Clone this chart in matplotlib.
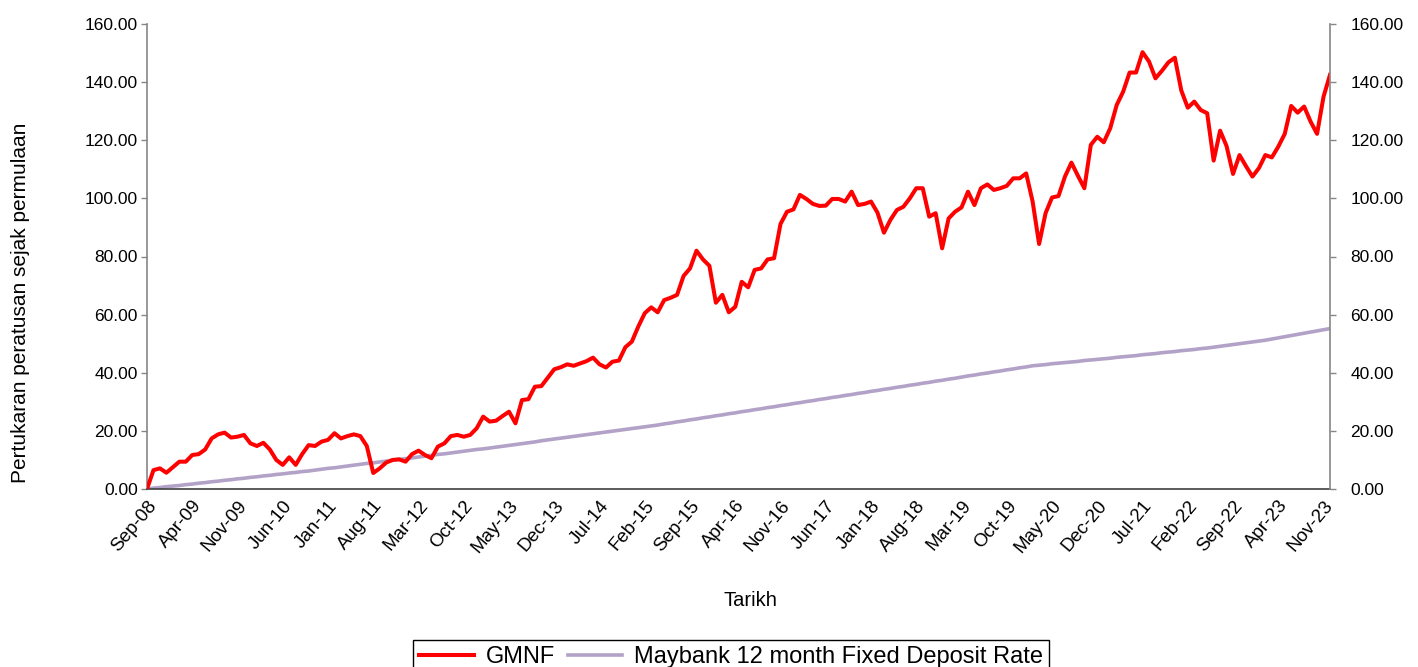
import matplotlib
matplotlib.use('Agg')
import matplotlib.pyplot as plt
import numpy as np
import pandas as pd

plt.rcParams['font.family'] = ['Liberation Sans', 'DejaVu Sans']

# monthly points, Sep-08 .. Dec-23
months = pd.date_range('2008-09-01', periods=184, freq='MS')
month_labels = [d.strftime('%b-%y') for d in months]

gmnf = [
    0.0, 6.5, 7.1, 5.6, 7.5, 9.4, 9.4, 11.7, 12.0, 13.6,
    17.4, 18.8, 19.4, 17.7, 18.0, 18.6, 15.7, 14.8, 15.9, 13.6,
    10.0, 8.3, 10.9, 8.3, 12.0, 15.1, 14.8, 16.3, 16.9, 19.2,
    17.4, 18.2, 18.8, 18.2, 14.8, 5.5, 7.1, 9.1, 10.0, 10.2,
    9.4, 12.0, 13.2, 11.7, 10.6, 14.6, 15.7, 18.2, 18.6, 18.0,
    18.6, 20.9, 24.9, 23.2, 23.5, 25.1, 26.6, 22.6, 30.6, 30.9,
    35.2, 35.4, 38.3, 41.2, 41.9, 42.9, 42.4, 43.2, 44.0, 45.2,
    42.9, 41.8, 43.8, 44.2, 48.8, 50.7, 55.9, 60.5, 62.5, 60.8,
    65.0, 65.8, 66.8, 73.3, 75.9, 82.0, 79.0, 76.8, 64.1, 66.8,
    60.8, 62.7, 71.3, 69.4, 75.4, 75.9, 79.0, 79.4, 91.2, 95.4,
    96.2, 101.2, 99.8, 98.1, 97.4, 97.5, 99.8, 99.8, 98.9, 102.3,
    97.7, 98.1, 98.9, 95.1, 88.2, 92.6, 96.0, 97.1, 100.0, 103.5,
    103.5, 93.7, 94.9, 82.8, 93.1, 95.4, 96.9, 102.3, 97.7, 103.5,
    104.8, 102.9, 103.5, 104.3, 106.9, 106.9, 108.6, 98.9, 84.3, 94.9,
    100.3, 100.8, 107.5, 112.3, 107.8, 103.5, 118.4, 121.2, 119.3, 124.1,
    132.1, 136.7, 143.3, 143.3, 150.3, 147.1, 141.3, 143.9, 146.8, 148.4,
    137.1, 131.2, 133.3, 130.4, 129.3, 113.0, 123.3, 118.0, 108.4, 114.9,
    111.1, 107.5, 110.4, 114.9, 114.1, 117.8, 122.2, 131.8, 129.5, 131.6,
    126.4, 122.2, 135.0, 142.5,
]

fd_rate = [
    0.0, 0.3, 0.5, 0.8, 1.0, 1.2, 1.5, 1.7, 2.0, 2.2,
    2.5, 2.7, 3.0, 3.2, 3.5, 3.7, 4.0, 4.2, 4.5, 4.7,
    5.0, 5.2, 5.5, 5.7, 6.0, 6.2, 6.5, 6.8, 7.1, 7.3,
    7.6, 7.9, 8.2, 8.5, 8.8, 9.0, 9.3, 9.6, 9.9, 10.2,
    10.4, 10.7, 11.0, 11.3, 11.6, 11.9, 12.1, 12.4, 12.7, 13.0,
    13.3, 13.6, 13.8, 14.1, 14.4, 14.7, 15.0, 15.3, 15.6, 15.9,
    16.2, 16.6, 16.9, 17.2, 17.5, 17.8, 18.1, 18.4, 18.7, 19.0,
    19.3, 19.6, 19.9, 20.2, 20.5, 20.8, 21.1, 21.4, 21.7, 22.0,
    22.4, 22.7, 23.1, 23.4, 23.8, 24.1, 24.5, 24.8, 25.2, 25.5,
    25.9, 26.2, 26.6, 26.9, 27.3, 27.6, 28.0, 28.3, 28.7, 29.0,
    29.4, 29.7, 30.1, 30.4, 30.8, 31.1, 31.5, 31.8, 32.2, 32.5,
    32.9, 33.2, 33.6, 33.9, 34.3, 34.6, 35.0, 35.3, 35.7, 36.0,
    36.4, 36.7, 37.1, 37.4, 37.8, 38.1, 38.5, 38.9, 39.2, 39.6,
    39.9, 40.3, 40.6, 41.0, 41.3, 41.7, 42.0, 42.4, 42.6, 42.8,
    43.1, 43.3, 43.5, 43.7, 43.9, 44.2, 44.4, 44.6, 44.8, 45.0,
    45.3, 45.5, 45.7, 45.9, 46.2, 46.4, 46.6, 46.9, 47.1, 47.3,
    47.6, 47.8, 48.0, 48.3, 48.5, 48.8, 49.1, 49.4, 49.7, 50.0,
    50.3, 50.6, 50.9, 51.2, 51.6, 52.0, 52.4, 52.8, 53.2, 53.6,
    54.0, 54.4, 54.8, 55.2,
]

y_ticks = [0, 20, 40, 60, 80, 100, 120, 140, 160]

x = np.arange(len(months))

fig = plt.figure(figsize=(14.18, 6.67), dpi=100)
ax = fig.add_axes([147/1418, 1-489/667, (1330-147)/1418, (489-24)/667])

ax.plot(x, fd_rate, color='#B3A2C7', lw=2.6, label='Maybank 12 month Fixed Deposit Rate', zorder=2)
ax.plot(x, gmnf, color='#FF0000', lw=2.9, label='GMNF', zorder=3)

ax.set_xlim(0, len(months) - 1)
ax.set_ylim(0, 160)
ax.set_yticks(y_ticks)
ax.set_yticklabels(['%.2f' % v for v in y_ticks], fontsize=12.5)
ax.set_xticks(x[::7])
ax.set_xticklabels(month_labels[::7], rotation=50, ha='right', va='top',
                   rotation_mode='anchor', fontsize=13.5)
ax.tick_params(axis='x', length=0, pad=6)
ax.tick_params(axis='y', direction='out', length=4.5, width=1, color='#868686', pad=2)

for s in ['top', 'right']:
    ax.spines[s].set_visible(False)
ax.spines['left'].set_color('#868686')
ax.spines['bottom'].set_color('#404040')
ax.spines['left'].set_linewidth(1.2)
ax.spines['bottom'].set_linewidth(1.2)

ax2 = ax.twinx()
ax2.set_ylim(0, 160)
ax2.set_yticks(y_ticks)
ax2.set_yticklabels(['%.2f' % v for v in y_ticks], fontsize=12.5)
ax2.tick_params(axis='y', direction='out', length=4.5, width=1, color='#868686', pad=10)
for s in ['top', 'left', 'bottom']:
    ax2.spines[s].set_visible(False)
ax2.spines['right'].set_color('#868686')
ax2.spines['right'].set_linewidth(1.2)

fig.text(21/1418, 1-303/667, 'Pertukaran peratusan sejak permulaan', fontsize=15,
         rotation=90, ha='center', va='center')
fig.text(750/1418, 1-600/667, 'Tarikh', fontsize=14.5, ha='center', va='center')

handles, labels = ax.get_legend_handles_labels()
leg = fig.legend(handles[::-1], labels[::-1], loc='upper center', ncol=2,
                 bbox_to_anchor=(731/1418, 1-640/667), fontsize=17,
                 frameon=True, fancybox=False, shadow=False, framealpha=1,
                 edgecolor='black', handlelength=2.3, handletextpad=0.5,
                 columnspacing=0.55, borderpad=0.25, borderaxespad=0)
leg.get_frame().set_linewidth(1.0)

fig.savefig('out.png', dpi=100)
